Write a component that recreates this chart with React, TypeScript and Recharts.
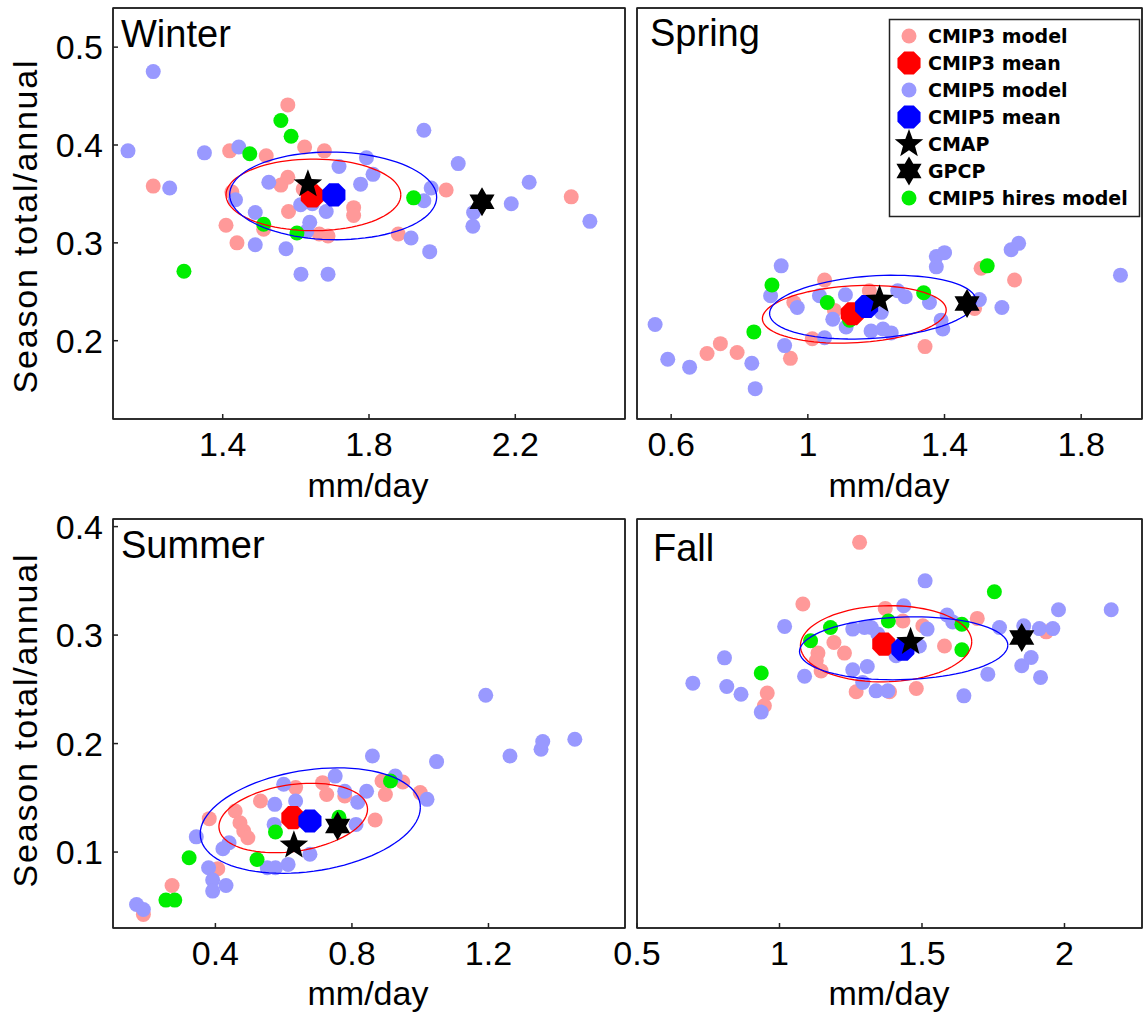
import React from "react";
import { ScatterChart, Scatter, XAxis, YAxis, ReferenceArea } from "recharts";

type Pt = [number, number];

// ---- Winter ----
const winterCmip3: Pt[] = [
  [1.21, 0.358], [1.419, 0.394], [1.519, 0.389], [1.578, 0.441], [1.624, 0.398], [1.678, 0.394],
  [1.425, 0.352], [1.409, 0.318], [1.439, 0.3], [1.512, 0.314], [1.559, 0.359], [1.578, 0.367],
  [1.58, 0.332], [1.664, 0.309], [1.688, 0.307], [1.758, 0.336], [1.758, 0.328], [1.88, 0.309],
  [2.011, 0.354], [2.353, 0.347], [1.62, 0.355],
];
const winterCmip5: Pt[] = [
  [1.21, 0.475], [1.141, 0.394], [1.35, 0.392], [1.444, 0.398], [1.255, 0.356], [1.435, 0.344],
  [1.489, 0.331], [1.489, 0.298], [1.573, 0.294], [1.614, 0.268], [1.688, 0.268], [1.526, 0.362],
  [1.613, 0.339], [1.638, 0.321], [1.683, 0.332], [1.718, 0.378], [1.793, 0.387], [1.811, 0.37],
  [1.777, 0.36], [1.95, 0.415], [2.044, 0.381], [1.97, 0.356], [1.95, 0.343], [1.915, 0.305],
  [1.966, 0.291], [2.084, 0.317], [2.086, 0.331], [2.189, 0.34], [2.238, 0.362], [2.404, 0.322],
  [1.645, 0.34], [1.63, 0.312],
];
const winterHires: Pt[] = [
  [1.559, 0.425], [1.587, 0.409], [1.474, 0.391], [1.512, 0.319], [1.603, 0.31], [1.922, 0.346], [1.294, 0.271],
];
const winterMeans: Pt[] = [[1.645, 0.348], [1.704, 0.349]];
const winterObs: Pt[] = [[1.633, 0.36], [2.109, 0.342]];
const winterEllipses = [
  { x: 1.648, y: 0.349, a: 0.239, b: 0.0366, rho: 0 },
  { x: 1.702, y: 0.348, a: 0.283, b: 0.0448, rho: -0.03 },
];

// ---- Spring ----
const springCmip3: Pt[] = [
  [0.705, 0.187], [0.744, 0.197], [0.793, 0.188], [0.949, 0.182], [0.959, 0.239], [1.013, 0.202],
  [1.049, 0.262], [1.18, 0.251], [1.078, 0.231], [1.343, 0.194], [1.605, 0.262], [1.507, 0.274],
  [1.488, 0.233],
];
const springCmip5: Pt[] = [
  [0.553, 0.2165], [0.59, 0.181], [0.654, 0.173], [0.846, 0.151], [0.836, 0.177], [0.932, 0.195],
  [0.922, 0.2765], [0.891, 0.246], [0.969, 0.234], [1.034, 0.246], [1.049, 0.203], [1.073, 0.222],
  [1.11, 0.247], [1.112, 0.214], [1.185, 0.21], [1.22, 0.212], [1.244, 0.208], [1.263, 0.251],
  [1.285, 0.245], [1.356, 0.239], [1.39, 0.221], [1.395, 0.212], [1.376, 0.2755], [1.376, 0.286],
  [1.4, 0.29], [1.502, 0.242], [1.568, 0.234], [1.595, 0.293], [1.617, 0.2995], [1.915, 0.267],
  [1.215, 0.229],
];
const springHires: Pt[] = [
  [0.895, 0.257], [0.842, 0.209], [1.057, 0.239], [1.339, 0.249], [1.525, 0.2765], [1.122, 0.221],
];
const springMeans: Pt[] = [[1.13, 0.2275], [1.172, 0.235]];
const springObs: Pt[] = [[1.21, 0.242], [1.466, 0.238]];
const springEllipses = [
  { x: 1.136, y: 0.227, a: 0.269, b: 0.0295, rho: 0.15 },
  { x: 1.19, y: 0.2343, a: 0.302, b: 0.0326, rho: 0.2 },
];

// ---- Summer ----
const summerCmip3: Pt[] = [
  [0.382, 0.1308], [0.458, 0.1378], [0.472, 0.127], [0.483, 0.1194], [0.495, 0.1132], [0.532, 0.147],
  [0.635, 0.1594], [0.714, 0.164], [0.726, 0.153], [0.779, 0.1517], [0.888, 0.1655], [0.898, 0.153],
  [0.949, 0.1646], [1.0, 0.1548], [0.868, 0.1295], [0.407, 0.0846], [0.273, 0.0692], [0.189, 0.0425],
];
const summerCmip5: Pt[] = [
  [1.192, 0.2446], [1.263, 0.1886], [1.354, 0.1948], [1.359, 0.2018], [1.453, 0.204], [1.048, 0.1834],
  [0.86, 0.1886], [0.751, 0.17], [0.6, 0.1625], [0.779, 0.156], [0.843, 0.156], [0.817, 0.146],
  [0.927, 0.17], [1.02, 0.1486], [0.574, 0.144], [0.635, 0.147], [0.572, 0.1255], [0.812, 0.1255],
  [0.344, 0.114], [0.44, 0.1086], [0.422, 0.103], [0.677, 0.098], [0.38, 0.0855], [0.552, 0.0855],
  [0.576, 0.0855], [0.613, 0.0886], [0.392, 0.0742], [0.431, 0.0692], [0.392, 0.064], [0.169, 0.0517],
  [0.189, 0.047],
];
const summerHires: Pt[] = [
  [0.913, 0.1655], [0.323, 0.0948], [0.522, 0.0932], [0.255, 0.0557], [0.281, 0.0557], [0.576, 0.1185], [0.762, 0.132],
];
const summerMeans: Pt[] = [[0.627, 0.1317], [0.677, 0.1286]];
const summerObs: Pt[] = [[0.63, 0.1062], [0.758, 0.124]];
const summerEllipses = [
  { x: 0.628, y: 0.1314, a: 0.2177, b: 0.032, rho: 0.25 },
  { x: 0.678, y: 0.129, a: 0.3225, b: 0.0486, rho: 0.25 },
];

// ---- Fall ----
const fallCmip3: Pt[] = [
  [1.281, 0.3855], [1.082, 0.3286], [1.371, 0.3246], [1.433, 0.313], [1.694, 0.3154], [1.191, 0.2932],
  [1.135, 0.2834], [1.228, 0.2834], [1.129, 0.2763], [1.146, 0.267], [1.579, 0.29], [0.957, 0.2465],
  [0.947, 0.2348], [1.269, 0.2477], [1.386, 0.2477], [1.48, 0.2508], [1.503, 0.3086], [1.936, 0.303],
];
const fallCmip5: Pt[] = [
  [1.511, 0.35], [2.164, 0.3234], [1.979, 0.3234], [1.018, 0.308], [1.436, 0.327], [1.588, 0.3185],
  [1.608, 0.312], [1.772, 0.307], [1.857, 0.3086], [1.912, 0.306], [1.959, 0.306], [1.518, 0.3055],
  [1.257, 0.3055], [1.298, 0.307], [1.322, 0.307], [1.345, 0.301], [1.491, 0.29], [0.807, 0.279],
  [0.696, 0.2557], [0.815, 0.2526], [0.865, 0.2455], [0.936, 0.229], [1.088, 0.262], [1.257, 0.268],
  [1.308, 0.271], [1.292, 0.2563], [1.339, 0.2486], [1.38, 0.2486], [1.731, 0.264], [1.85, 0.2717],
  [1.883, 0.2794], [1.916, 0.261], [1.647, 0.244], [1.409, 0.281],
];
const fallHires: Pt[] = [
  [1.754, 0.34], [1.179, 0.307], [1.109, 0.2948], [1.382, 0.313], [1.64, 0.31], [1.64, 0.2865], [0.936, 0.265],
];
const fallMeans: Pt[] = [[1.366, 0.2917], [1.433, 0.287]];
const fallObs: Pt[] = [[1.46, 0.2938], [1.85, 0.2978]];
const fallEllipses = [
  { x: 1.374, y: 0.292, a: 0.3006, b: 0.0351, rho: 0.05 },
  { x: 1.4357, y: 0.2878, a: 0.3655, b: 0.029, rho: 0.1 },
];

const seasonNames = ["Winter", "Spring", "Summer", "Fall"];
const legendNames = ["CMIP3 model", "CMIP3 mean", "CMIP5 model", "CMIP5 mean", "CMAP", "GPCP", "CMIP5 hires model"];
const xTicks = [[1.4, 1.8, 2.2], [0.6, 1, 1.4, 1.8], [0.4, 0.8, 1.2], [0.5, 1, 1.5, 2]];
const yTicksTop = [0.2, 0.3, 0.4, 0.5];
const yTicksBottom = [0.1, 0.2, 0.3, 0.4];
const xDomains: Pt[] = [[1.1, 2.5], [0.5, 1.978], [0.1, 1.6], [0.5, 2.272]];
const yDomains: Pt[] = [[0.12, 0.54], [0.12, 0.54], [0.03, 0.407], [0.03, 0.407]];

const PINK = "#FF9999";
const LILAC = "#9999FF";
const GREEN = "#00EE00";
const RED = "#FF0000";
const BLUE = "#0000FF";
const FRAME = "#222";
const FONT = "'Liberation Sans', Arial, Helvetica, sans-serif";

const toXY = (pts: Pt[]) => pts.map(([x, y]) => ({ x, y }));

const octagon = (cx: number, cy: number, r: number) =>
  Array.from({ length: 8 }, (_, i) => {
    const t = ((i + 0.5) * Math.PI) / 4;
    return `${cx + r * Math.cos(t)},${cy + r * Math.sin(t)}`;
  }).join(" ");

const star = (cx: number, cy: number, R: number, n: number, ratio: number) =>
  Array.from({ length: n * 2 }, (_, i) => {
    const rr = i % 2 === 0 ? R : R * ratio;
    const t = -Math.PI / 2 + (i * Math.PI) / n;
    return `${cx + rr * Math.cos(t)},${cy + rr * Math.sin(t)}`;
  }).join(" ");

const dotShape = (color: string) => (p: any) => <circle cx={p.cx} cy={p.cy} r={7.5} fill={color} />;
const meanShape = (color: string) => (p: any) => <polygon points={octagon(p.cx, p.cy, 12.5)} fill={color} />;
const cmapShape = (p: any) => <polygon points={star(p.cx, p.cy, 15, 5, 0.42)} fill="#000" />;
const gpcpShape = (p: any) => <polygon points={star(p.cx, p.cy, 14.5, 6, 0.58)} fill="#000" />;
const noShape = () => <g />;

const ellipseShape = (color: string, kx: number, ky: number) => (p: any) => {
  const { a, b, rho } = p.payload;
  const pts: string[] = [];
  for (let i = 0; i <= 90; i++) {
    const t = (i / 90) * 2 * Math.PI;
    const dx = a * Math.cos(t);
    const dy = b * (rho * Math.cos(t) + Math.sqrt(1 - rho * rho) * Math.sin(t));
    pts.push(`${p.cx + dx * kx},${p.cy - dy * ky}`);
  }
  return <polyline points={pts.join(" ")} fill="none" stroke={color} strokeWidth={1.3} />;
};

// chart boxes: the plot rectangles sit at x 113..625 / 637..1142, y 8..419 / 519..928
const panels = [
  { cmip3: winterCmip3, cmip5: winterCmip5, hires: winterHires, means: winterMeans, obs: winterObs, ell: winterEllipses, yTicks: yTicksTop,
    left: 0, top: 0, width: 630, height: 510, margin: { top: 7, right: 4, left: 0, bottom: 0 }, yw: 113, xh: 91, showY: true },
  { cmip3: springCmip3, cmip5: springCmip5, hires: springHires, means: springMeans, obs: springObs, ell: springEllipses, yTicks: yTicksTop,
    left: 570, top: 0, width: 573, height: 510, margin: { top: 7, right: 0, left: 66, bottom: 0 }, yw: 1, xh: 91, showY: false },
  { cmip3: summerCmip3, cmip5: summerCmip5, hires: summerHires, means: summerMeans, obs: summerObs, ell: summerEllipses, yTicks: yTicksBottom,
    left: 0, top: 470, width: 630, height: 546, margin: { top: 48, right: 4, left: 0, bottom: 0 }, yw: 113, xh: 88, showY: true },
  { cmip3: fallCmip3, cmip5: fallCmip5, hires: fallHires, means: fallMeans, obs: fallObs, ell: fallEllipses, yTicks: yTicksBottom,
    left: 570, top: 470, width: 573, height: 546, margin: { top: 48, right: 0, left: 66, bottom: 0 }, yw: 1, xh: 88, showY: false },
];

const tickStyle = { fontSize: 34, fill: "#000", fontFamily: FONT };
const lineStyle = { stroke: FRAME, strokeWidth: 1.5 };
const fmt = (v: number) => String(v);

function Panel({ idx }: { idx: number }) {
  const p = panels[idx];
  const xd = xDomains[idx];
  const yd = yDomains[idx];
  const plotW = p.width - p.margin.left - p.margin.right - p.yw - 1;
  const plotH = p.height - p.margin.top - 1 - p.xh;
  const kx = plotW / (xd[1] - xd[0]);
  const ky = plotH / (yd[1] - yd[0]);
  return (
    <div style={{ position: "absolute", left: p.left, top: p.top }}>
      <ScatterChart width={p.width} height={p.height} margin={p.margin}>
        <XAxis type="number" dataKey="x" domain={xd} ticks={xTicks[idx]} allowDataOverflow interval={0}
          height={p.xh} tickSize={-5} tickMargin={18} axisLine={lineStyle} tickLine={lineStyle}
          tick={tickStyle} tickFormatter={fmt} />
        <XAxis xAxisId="top" orientation="top" type="number" dataKey="x" domain={xd} ticks={xTicks[idx]}
          allowDataOverflow interval={0} height={1} tickSize={-5} axisLine={lineStyle} tickLine={lineStyle} tick={false} />
        <YAxis type="number" dataKey="y" domain={yd} ticks={p.yTicks} allowDataOverflow interval={0}
          width={p.yw} tickSize={-5} tickMargin={15} axisLine={lineStyle} tickLine={lineStyle}
          tick={p.showY ? tickStyle : false} tickFormatter={fmt} />
        <YAxis yAxisId="right" orientation="right" type="number" dataKey="y" domain={yd} ticks={p.yTicks}
          allowDataOverflow interval={0} width={1} tickSize={-5} axisLine={lineStyle} tickLine={lineStyle} tick={false} />
        <ReferenceArea x1={xd[0]} x2={xd[1]} y1={yd[0]} y2={yd[1]} fill="none" stroke={FRAME} strokeWidth={1.5}
          fillOpacity={0} ifOverflow="visible" />
        <Scatter data={[]} xAxisId="top" yAxisId="right" shape={noShape} isAnimationActive={false} />
        <Scatter data={toXY(p.cmip3)} shape={dotShape(PINK)} isAnimationActive={false} />
        <Scatter data={toXY(p.cmip5)} shape={dotShape(LILAC)} isAnimationActive={false} />
        <Scatter data={toXY(p.hires)} shape={dotShape(GREEN)} isAnimationActive={false} />
        <Scatter data={[p.ell[0]]} shape={ellipseShape(RED, kx, ky)} isAnimationActive={false} />
        <Scatter data={[p.ell[1]]} shape={ellipseShape(BLUE, kx, ky)} isAnimationActive={false} />
        <Scatter data={toXY([p.means[0]])} shape={meanShape(RED)} isAnimationActive={false} />
        <Scatter data={toXY([p.means[1]])} shape={meanShape(BLUE)} isAnimationActive={false} />
        <Scatter data={toXY([p.obs[0]])} shape={cmapShape} isAnimationActive={false} />
        <Scatter data={toXY([p.obs[1]])} shape={gpcpShape} isAnimationActive={false} />
      </ScatterChart>
    </div>
  );
}

const titlePos = [[121, 47], [650, 46], [121, 558], [653, 561]];
const legendY = [36, 63, 90, 117, 144, 171, 198];

function legendIcon(i: number, cx: number, cy: number) {
  switch (i) {
    case 0: return <circle cx={cx} cy={cy} r={7.5} fill={PINK} />;
    case 1: return <polygon points={octagon(cx, cy, 12.5)} fill={RED} />;
    case 2: return <circle cx={cx} cy={cy} r={7.5} fill={LILAC} />;
    case 3: return <polygon points={octagon(cx, cy, 12.5)} fill={BLUE} />;
    case 4: return <polygon points={star(cx, cy, 15, 5, 0.42)} fill="#000" />;
    case 5: return <polygon points={star(cx, cy, 14.5, 6, 0.58)} fill="#000" />;
    default: return <circle cx={cx} cy={cy} r={7.5} fill={GREEN} />;
  }
}

export default function App() {
  return (
    <div style={{ position: "relative", width: 1143, height: 1016, background: "#fff", overflow: "hidden" }}>
      <style>{`body{margin:0;background:#fff}`}</style>
      {panels.map((_, i) => <Panel key={i} idx={i} />)}
      <svg width={1143} height={1016} style={{ position: "absolute", left: 0, top: 0, pointerEvents: "none" }}>
        {seasonNames.map((s, i) => (
          <text key={s} x={titlePos[i][0]} y={titlePos[i][1]} fontSize={38} fontFamily={FONT} fill="#000">{s}</text>
        ))}
        {[[368, 497], [889, 497], [368, 1005], [889, 1005]].map(([x, y], i) => (
          <text key={i} x={x} y={y} fontSize={34} fontFamily={FONT} textAnchor="middle" fill="#000">mm/day</text>
        ))}
        {[[37, 226], [37, 720]].map(([x, y], i) => (
          <text key={i} x={x} y={y} fontSize={34} letterSpacing={1.8} fontFamily={FONT} textAnchor="middle" fill="#000"
            transform={`rotate(-90 ${x} ${y})`}>Season total/annual</text>
        ))}
        <rect x={889.5} y={19.5} width={250} height={197} fill="#fff" stroke={FRAME} strokeWidth={1.5} />
        {legendNames.map((n, i) => (
          <g key={n}>
            {legendIcon(i, 909, legendY[i])}
            <text x={928} y={legendY[i] + 7} fontSize={19} fontWeight="bold" fontFamily="'DejaVu Sans', sans-serif" fill="#000">{n}</text>
          </g>
        ))}
      </svg>
    </div>
  );
}
